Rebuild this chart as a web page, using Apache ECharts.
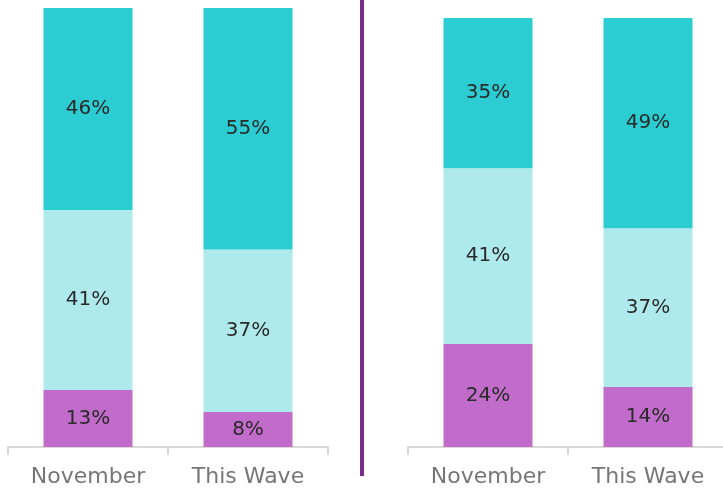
<!DOCTYPE html>
<html>
<head>
<meta charset="utf-8">
<script src="https://cdn.jsdelivr.net/npm/echarts@6/dist/echarts.min.js"></script>
<style>
  html, body { margin: 0; padding: 0; background: #fff; overflow: hidden; }
  #chart { width: 728px; height: 494px; }
</style>
</head>
<body>
<div id="chart"></div>
<script>
var categories = ['November', 'This Wave'];

// left panel
var leftBottom = [13, 8];
var leftMiddle = [41, 37];
var leftTop = [46, 55];

// right panel
var rightBottom = [24, 14];
var rightMiddle = [41, 37];
var rightTop = [35, 49];

var colors = ['#C16BCA', '#AEEAEC', '#2BCCD2'];
var font = 'DejaVu Sans';

function bar(name, data, idx, color) {
  return {
    name: name,
    type: 'bar',
    stack: 's' + idx,
    xAxisIndex: idx,
    yAxisIndex: idx,
    barWidth: 89,
    data: data,
    itemStyle: { color: color },
    label: {
      show: true,
      position: 'inside',
      formatter: '{c}%',
      fontFamily: font,
      fontSize: 20,
      color: '#2a2a2a'
    }
  };
}

function xAxis(idx) {
  return {
    type: 'category',
    gridIndex: idx,
    data: categories,
    axisLine: { lineStyle: { color: '#D9D9D9', width: 2 } },
    axisTick: { show: true, length: 8, lineStyle: { color: '#D9D9D9', width: 2 } },
    axisLabel: { fontFamily: font, fontSize: 22, color: '#767676', margin: 19 }
  };
}

function yAxis(idx) {
  return { type: 'value', gridIndex: idx, min: 0, max: 100, show: false };
}

var chart = echarts.init(document.getElementById('chart'));
chart.setOption({
  animation: false,
  grid: [
    { left: 8, width: 320, top: 8, bottom: 47 },
    { left: 408, width: 320, top: 18, bottom: 47 }
  ],
  xAxis: [xAxis(0), xAxis(1)],
  yAxis: [yAxis(0), yAxis(1)],
  graphic: [{
    type: 'rect',
    shape: { x: 360, y: 0, width: 4, height: 476 },
    style: { fill: '#7B2D8E' }
  }],
  series: [
    bar('bottom', leftBottom, 0, colors[0]),
    bar('middle', leftMiddle, 0, colors[1]),
    bar('top', leftTop, 0, colors[2]),
    bar('bottom', rightBottom, 1, colors[0]),
    bar('middle', rightMiddle, 1, colors[1]),
    bar('top', rightTop, 1, colors[2])
  ]
});
</script>
</body>
</html>
